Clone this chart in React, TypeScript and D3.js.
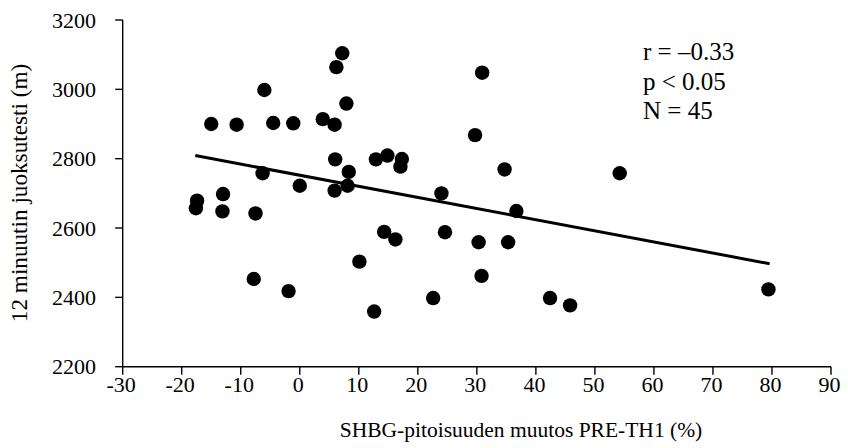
import React from "react";
import * as d3 from "d3";

const shbgChange: number[] = [
  -15, -10.7, -6, -4.5, -1.1, 3.9, 5.9, 6.2, 7.2, 7.9,
  6, 8.3, 12.9, -6.3, 0, 5.9, 8.1, -13, -17.4, -17.6,
  -13.1, -7.5, -7.8, -1.9, 10.1, 12.6, 14.3, 16.2, 24, 24.6,
  22.6, 30.3, 30.8, 35.3, 36.7, 42.4, 45.8, 54.2, 14.85, 17.3,
  17.05, 30.9, 29.7, 34.7, 79.4,
];
const runDistance: number[] = [
  2900, 2898, 2998, 2903, 2902, 2914, 2898, 3064, 3104, 2959,
  2798, 2762, 2798, 2758, 2722, 2708, 2722, 2698, 2679, 2657,
  2648, 2642, 2453, 2418, 2503, 2359, 2589, 2567, 2700, 2588,
  2398, 2559, 2462, 2559, 2649, 2398, 2377, 2758, 2809, 2799,
  2777, 3048, 2868, 2769, 2423,
];
const trendX: number[] = [-17.7, 79.6];
const trendY: number[] = [2809, 2497];
const xTicks: number[] = [-30, -20, -10, 0, 10, 20, 30, 40, 50, 60, 70, 80, 90];
const yTicks: number[] = [2200, 2400, 2600, 2800, 3000, 3200];
const statsLines: string[] = ["r = \u20130.33", "p < 0.05", "N = 45"];
const xTitle = "SHBG-pitoisuuden muutos PRE-TH1 (%)";
const yTitle = "12 minuutin juoksutesti (m)";

const W = 848;
const H = 448;
const left = 122.7;
const right = 831;
const top = 20;
const bottom = 366.7;
const FONT = '"Liberation Serif", "Times New Roman", "DejaVu Serif", serif';

export default function App() {
  const x = d3.scaleLinear().domain([-30, 90]).range([left, right]);
  const y = d3.scaleLinear().domain([2200, 3200]).range([bottom, top]);
  const points = shbgChange.map((v, i) => [v, runDistance[i]] as [number, number]);
  const trend = d3
    .line<[number, number]>()
    .x((d) => x(d[0]))
    .y((d) => y(d[1]))(trendX.map((v, i) => [v, trendY[i]] as [number, number]));

  const ts: React.CSSProperties = { fontFamily: FONT };

  return (
    <div style={{ position: "fixed", left: 0, top: 0, width: W, height: H, background: "#fff" }}>
      <svg width={W} height={H} style={{ display: "block", fontFamily: FONT }}>
        <rect x={0} y={0} width={W} height={H} fill="#fff" />
        <line x1={left} x2={left} y1={top} y2={bottom} stroke="#000" strokeWidth={1.4} />
        {yTicks.map((t) => (
          <g key={"y" + t}>
            <line x1={left - 7.5} x2={left} y1={y(t)} y2={y(t)} stroke="#000" strokeWidth={1.4} />
            <text x={96} y={y(t)} dy="0.35em" textAnchor="end" fontSize={22} fill="#000" style={ts}>
              {t}
            </text>
          </g>
        ))}
        <line x1={left} x2={right} y1={bottom} y2={bottom} stroke="#000" strokeWidth={1.4} />
        {xTicks.map((t) => (
          <g key={"x" + t}>
            <line x1={x(t)} x2={x(t)} y1={bottom} y2={bottom + 8} stroke="#000" strokeWidth={1.4} />
            <text x={x(t) - 1.5} y={392} textAnchor="middle" fontSize={22} fill="#000" style={ts}>
              {t}
            </text>
          </g>
        ))}
        {points.map((p, i) => (
          <circle key={i} cx={x(p[0])} cy={y(p[1])} r={7.2} fill="#000" />
        ))}
        <path d={trend || ""} fill="none" stroke="#000" strokeWidth={3} />
        {statsLines.map((s, i) => (
          <text key={s} x={643} y={60 + i * 29.5} fontSize={25} fill="#000" style={ts}>
            {s}
          </text>
        ))}
        <text x={521} y={437} textAnchor="middle" fontSize={21.5} fill="#000" style={ts}>
          {xTitle}
        </text>
        <text
          transform={`translate(27,${193}) rotate(-90)`}
          textAnchor="middle"
          fontSize={23.2}
          fill="#000"
          style={ts}
        >
          {yTitle}
        </text>
      </svg>
    </div>
  );
}
